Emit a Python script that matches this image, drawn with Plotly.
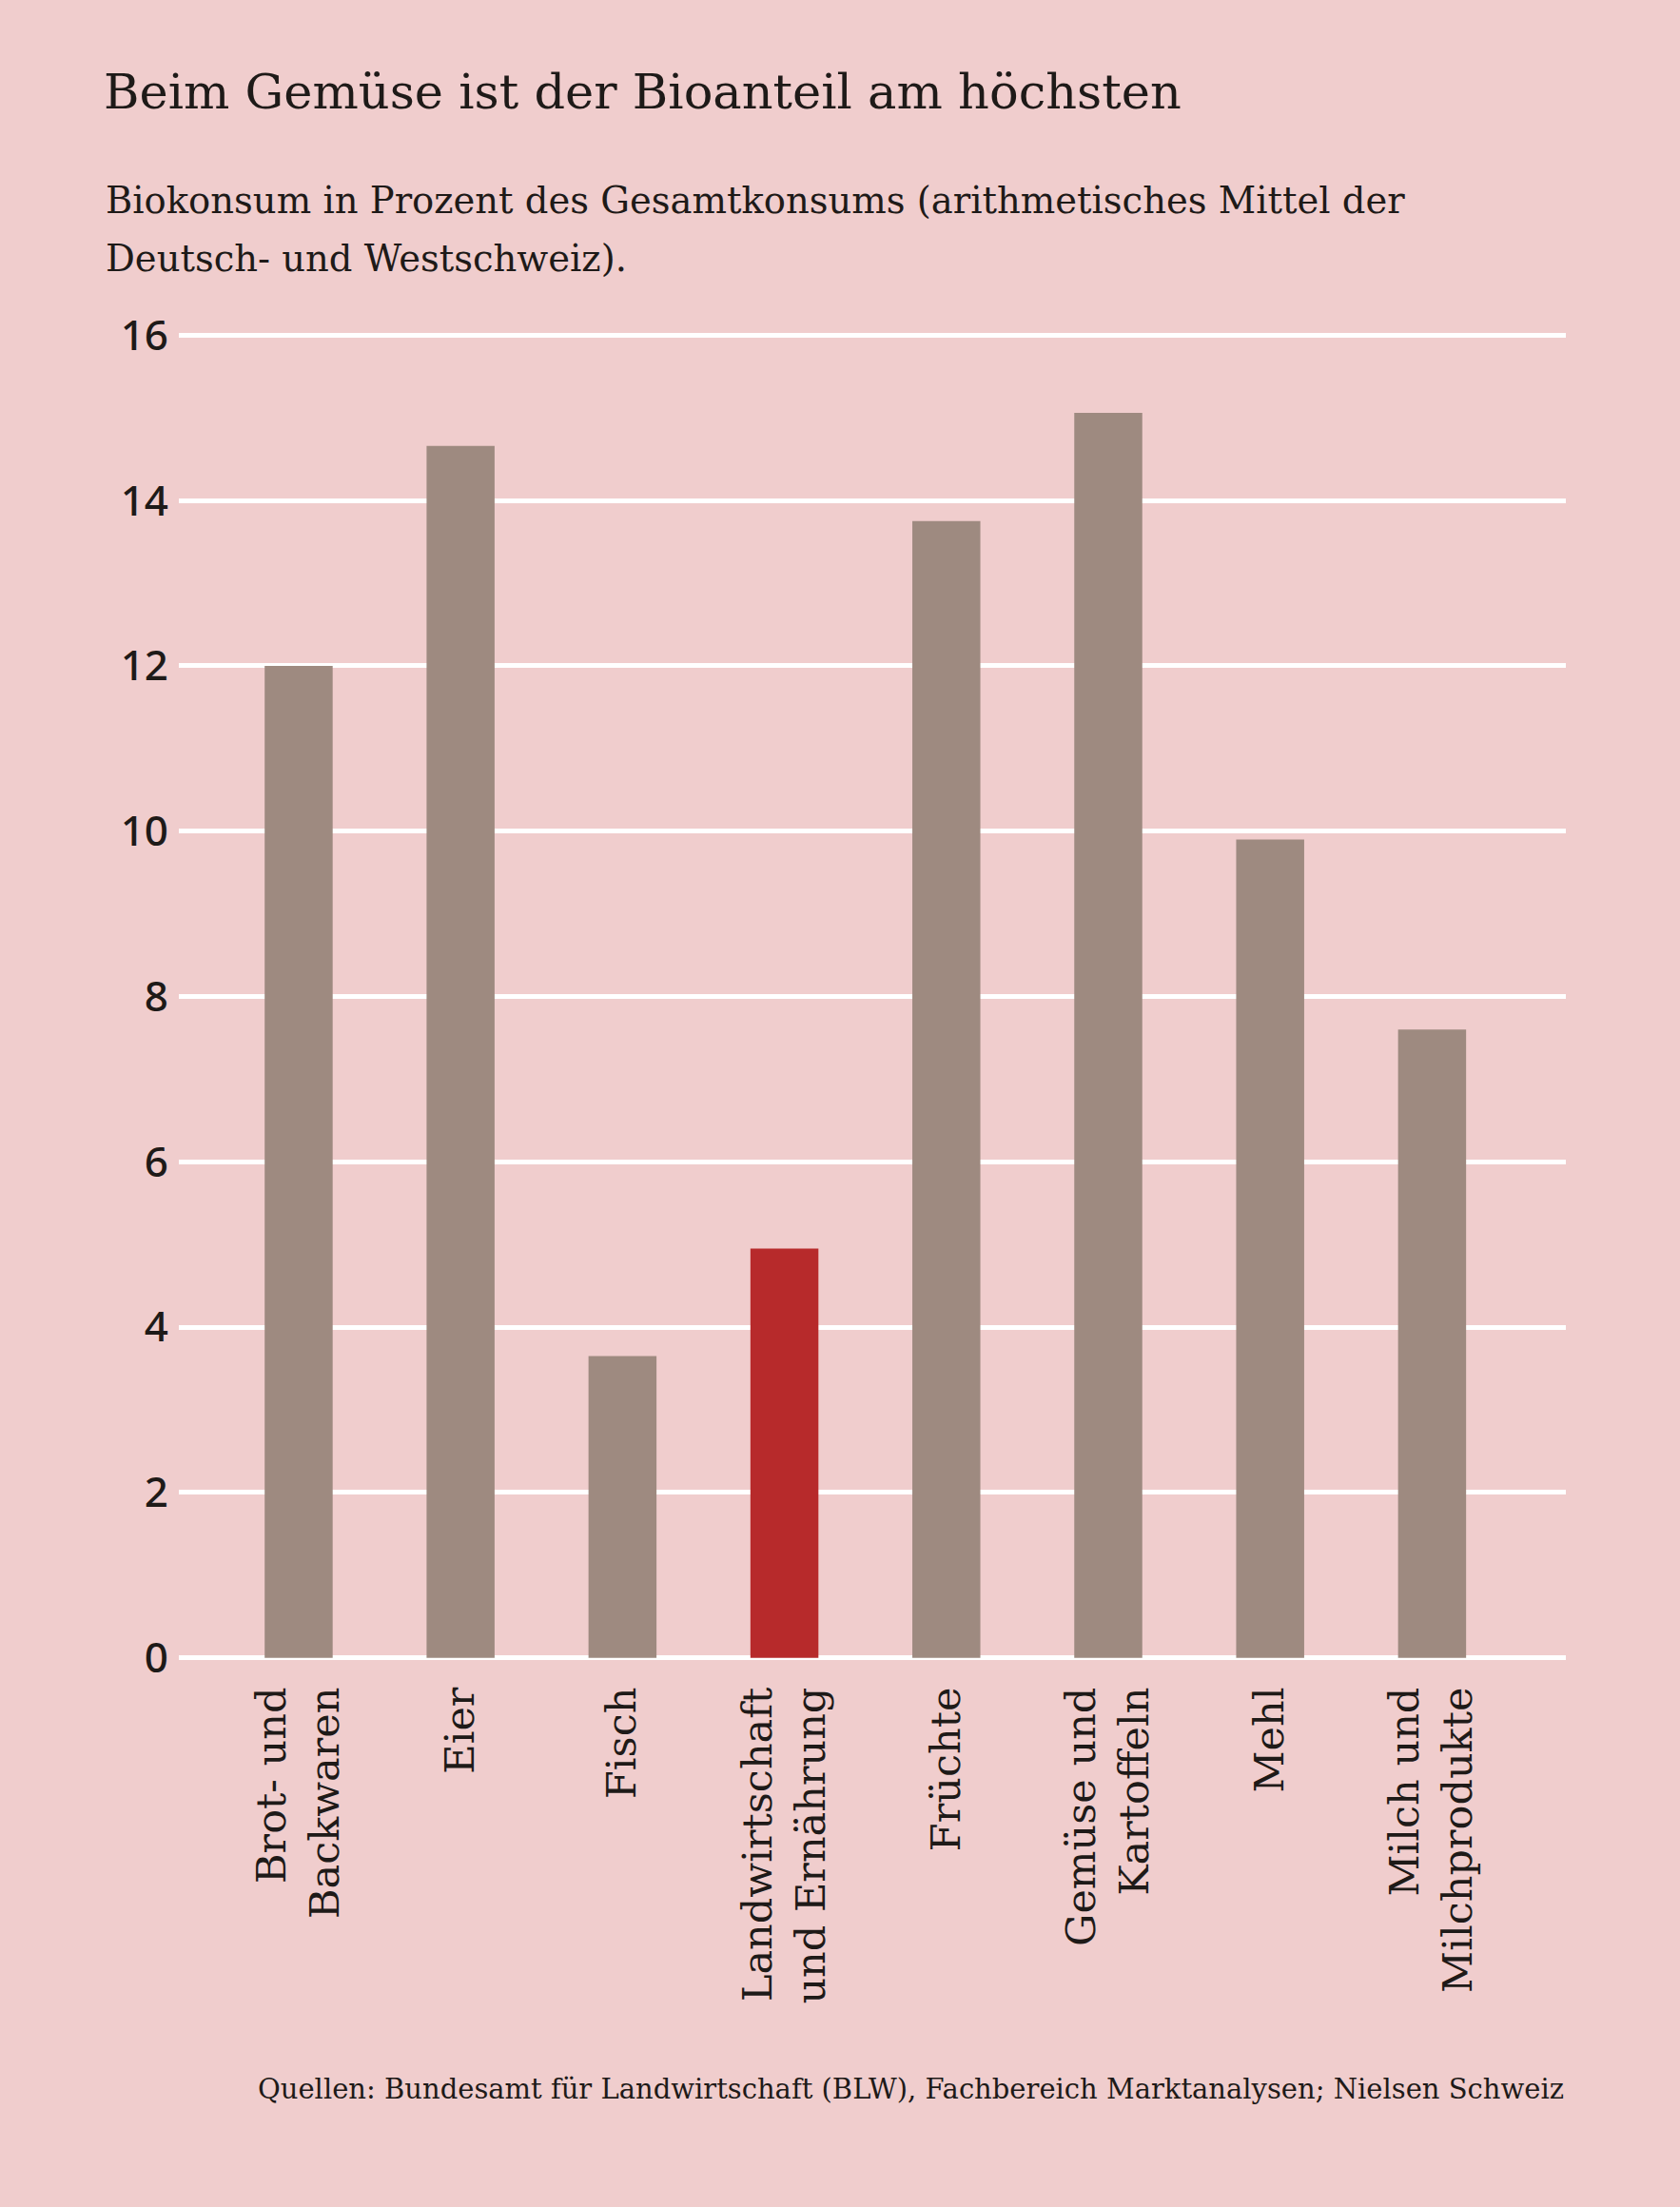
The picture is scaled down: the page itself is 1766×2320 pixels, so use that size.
"""Bar chart: organic share of total consumption by product group (Switzerland)."""

import plotly.graph_objects as go

CATEGORIES = [
    "Brot- und<br>Backwaren",
    "Eier",
    "Fisch",
    "Landwirtschaft<br>und Ernährung",
    "Früchte",
    "Gemüse und<br>Kartoffeln",
    "Mehl",
    "Milch und<br>Milchprodukte",
]
BIO_SHARE = [12.0, 14.66, 3.65, 4.95, 13.75, 15.06, 9.9, 7.6]
HIGHLIGHT = "Landwirtschaft<br>und Ernährung"
Y_TICKS = [0, 2, 4, 6, 8, 10, 12, 14, 16]

TITLE = "Beim Gemüse ist der Bioanteil am höchsten"
SUBTITLE_LINES = [
    "Biokonsum in Prozent des Gesamtkonsums (arithmetisches Mittel der",
    "Deutsch- und Westschweiz).",
]
SOURCE = "Quellen: Bundesamt für Landwirtschaft (BLW), Fachbereich Marktanalysen; Nielsen Schweiz"

BG_COLOR = "#F0CDCD"
BAR_COLOR = "#9E8A80"
RED_COLOR = "#B72A2B"
TEXT_COLOR = "#1E1A18"
SERIF = "DejaVu Serif"
SANS = "Noto Sans"

WIDTH, HEIGHT = 1766, 2320
MARGIN = {"l": 188, "r": 120, "t": 348, "b": 573}


def paper_y(px):
    """Convert a pixel row of the page into paper y."""
    plot_h = HEIGHT - MARGIN["t"] - MARGIN["b"]
    return (HEIGHT - MARGIN["b"] - px) / plot_h


def paper_x(px):
    """Convert a pixel column of the page into paper x."""
    plot_w = WIDTH - MARGIN["l"] - MARGIN["r"]
    return (px - MARGIN["l"]) / plot_w


colors = [RED_COLOR if c == HIGHLIGHT else BAR_COLOR for c in CATEGORIES]

fig = go.Figure(
    go.Bar(
        x=CATEGORIES,
        y=BIO_SHARE,
        marker={"color": colors, "line": {"width": 0}},
        width=0.42,
        hovertemplate="%{x}: %{y:.1f} %<extra></extra>",
    )
)

fig.update_layout(
    width=WIDTH,
    height=HEIGHT,
    margin=MARGIN,
    paper_bgcolor=BG_COLOR,
    plot_bgcolor=BG_COLOR,
    showlegend=False,
    title={
        "text": TITLE,
        "font": {"family": SERIF, "size": 51, "color": TEXT_COLOR},
        "xref": "container",
        "x": 109 / WIDTH,
        "xanchor": "left",
        "yref": "container",
        "y": 1 - 96 / HEIGHT,
        "yanchor": "middle",
    },
)

# Subtitle, one annotation per line, and the source line at the bottom.
for line, row in zip(SUBTITLE_LINES, [210, 271]):
    fig.add_annotation(
        text=line,
        xref="paper",
        yref="paper",
        x=paper_x(109),
        y=paper_y(row),
        xanchor="left",
        yanchor="middle",
        showarrow=False,
        font={"family": SERIF, "size": 38.5, "color": TEXT_COLOR},
    )

fig.add_annotation(
    text=SOURCE,
    xref="paper",
    yref="paper",
    x=paper_x(1646),
    y=paper_y(2196),
    xanchor="right",
    yanchor="middle",
    showarrow=False,
    font={"family": SERIF, "size": 29, "color": TEXT_COLOR},
)

fig.update_xaxes(
    range=[-0.74, 7.826],
    showgrid=False,
    showline=False,
    zeroline=False,
    tickangle=-90,
    ticklabelstandoff=17,
    tickfont={"family": SERIF, "size": 43, "color": TEXT_COLOR},
)

fig.update_yaxes(
    range=[-0.05, 16.05],
    tickvals=Y_TICKS,
    showgrid=True,
    gridcolor="white",
    gridwidth=5,
    zeroline=True,
    zerolinecolor="white",
    zerolinewidth=5,
    showline=False,
    ticklabelstandoff=10,
    tickfont={"family": SANS, "size": 44, "color": TEXT_COLOR, "weight": 500},
)

# The page should carry no white border around the figure.
fig.write_html(
    "out.html",
    config={"displayModeBar": False},
    post_script=(
        "document.body.style.margin='0';"
        f"document.body.style.background='{BG_COLOR}';"
    ),
)
